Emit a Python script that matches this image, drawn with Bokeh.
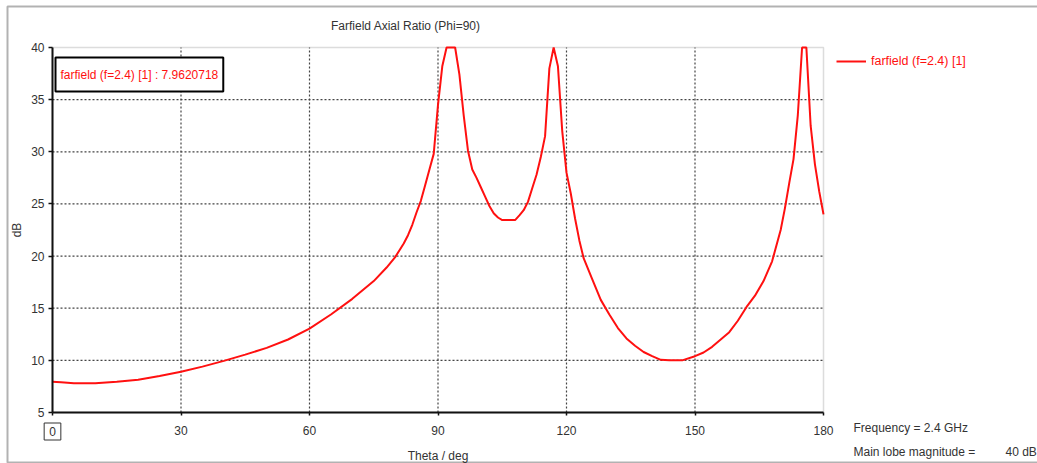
import math
from bokeh.plotting import figure
from bokeh.models import (Label, Legend, LegendItem, FixedTicker, BoxAnnotation, Range1d)
from bokeh.embed import file_html
from bokeh.resources import INLINE

# ---- data ----
theta = [0, 2, 5, 10, 15, 20, 25, 30, 35, 40, 45, 50, 55, 60, 65, 70, 75, 78, 80, 82,
         83, 84, 85, 86, 87, 88, 89, 90, 91, 92, 94, 95, 96, 97, 98, 99, 100, 101, 102,
         103, 104, 105, 108, 109, 110, 111, 112, 113, 114, 115, 116, 117, 118, 119, 120,
         121, 122, 123, 124, 126, 128, 130, 132, 134, 136, 138, 140, 142, 144, 147, 150,
         152, 154, 156, 158, 160, 162, 164, 166, 168, 170, 171, 172, 173, 174, 175, 176,
         177, 178, 179, 180]
axial_ratio = [7.96, 7.9, 7.8, 7.8, 7.95, 8.15, 8.5, 8.9, 9.4, 9.95, 10.55, 11.2, 12.0,
               13.05, 14.4, 15.9, 17.6, 18.9, 19.9, 21.2,
               22.0, 23.0, 24.2, 25.3, 26.8, 28.3, 29.8, 34.5, 38.2, 40.0, 40.0, 37.4, 33.5,
               30.1, 28.3, 27.5, 26.6, 25.7, 24.8,
               24.1, 23.7, 23.45, 23.45, 23.9, 24.4, 25.2, 26.5, 27.8, 29.5, 31.5, 38.0, 40.0,
               38.2, 32.0, 28.0,
               26.0, 23.6, 21.5, 19.8, 17.8, 15.8, 14.4, 13.1, 12.1, 11.4, 10.8, 10.4, 10.05,
               10.0, 10.0, 10.4,
               10.75, 11.3, 12.0, 12.7, 13.8, 15.1, 16.2, 17.6, 19.5, 22.5, 24.6, 27.0, 29.3,
               33.5, 40.0, 40.0,
               32.5, 28.8, 26.2, 24.0]
x_ticks = [0, 30, 60, 90, 120, 150, 180]
y_ticks = [5, 10, 15, 20, 25, 30, 35, 40]
series_name = "farfield (f=2.4) [1]"
marker_text = "farfield (f=2.4) [1] : 7.9620718"
title_text = "Farfield  Axial Ratio (Phi=90)"
x_label = "Theta / deg"
y_label = "dB"
info_lines = ["Frequency = 2.4 GHz", "Main lobe magnitude ="]
info_value = "40 dB"

# ---- layout (pixels) ----
W, H = 1037, 463
BOX_L, BOX_R, BOX_T, BOX_B = 52, 823, 47, 412   # plot box on the canvas
FONT = "Liberation Sans"
RED = "#ff1010"
TXT = "#333333"

x_min, x_max = x_ticks[0], x_ticks[-1]
y_min, y_max = y_ticks[0], y_ticks[-1]
ux = (x_max - x_min) / (BOX_R - BOX_L)
uy = (y_max - y_min) / (BOX_B - BOX_T)
x_range = Range1d(x_min - BOX_L * ux, x_max + (W - BOX_R) * ux)
y_range = Range1d(y_min - (H - BOX_B) * uy, y_max + BOX_T * uy)

p = figure(width=W, height=H, output_backend="svg", toolbar_location=None,
           x_range=x_range, y_range=y_range,
           min_border=0, min_border_left=0, min_border_right=0,
           min_border_top=0, min_border_bottom=0)
p.title.visible = False
p.background_fill_color = "white"
p.border_fill_color = "white"
p.outline_line_color = None
p.xgrid.visible = False
p.ygrid.visible = False

# gray plot-box border (left/bottom get covered by the black axes)
p.add_layout(BoxAnnotation(left=x_min, right=x_max, bottom=y_min, top=y_max,
                           fill_color=None, line_color="#8a8a8a", line_width=1.5,
                           level="underlay"))

# dotted grid at the inner ticks
gx = x_ticks[1:-1]
gy = y_ticks[1:-1]
p.segment(x0=gx, y0=[y_min] * len(gx), x1=gx, y1=[y_max] * len(gx),
          line_color="#444444", line_dash="2 2", line_width=1.2)
p.segment(x0=[x_min] * len(gy), y0=gy, x1=[x_max] * len(gy), y1=gy,
          line_color="#444444", line_dash="2 2", line_width=1.2)

r = p.line(theta, axial_ratio, line_color=RED, line_width=2)

# axes drawn at the plot-box edges
for ax in (p.xaxis[0], p.yaxis[0]):
    ax.axis_line_color = "#111111"
    ax.axis_line_width = 2
    ax.major_tick_line_color = "#111111"
    ax.major_tick_line_width = 1.5
    ax.major_tick_in = 0
    ax.minor_tick_line_color = None
    ax.major_label_text_font = FONT
    ax.major_label_text_font_size = "12px"
    ax.major_label_text_color = TXT
    ax.axis_label_text_font = FONT
    ax.axis_label_text_font_size = "12px"
    ax.axis_label_text_font_style = "normal"
    ax.axis_label_text_color = TXT
p.xaxis.fixed_location = y_min
p.yaxis.fixed_location = x_min
p.xaxis.bounds = (x_min, x_max)
p.yaxis.bounds = (y_min, y_max)
p.xaxis.ticker = FixedTicker(ticks=x_ticks)
p.yaxis.ticker = FixedTicker(ticks=y_ticks)
p.xaxis.major_tick_out = 3
p.yaxis.major_tick_out = 4
p.xaxis.major_label_standoff = 10
p.yaxis.major_label_standoff = 4
p.xaxis.major_label_overrides = {0: ""}
p.xaxis.axis_label = x_label
p.xaxis.axis_label_standoff = 11
p.yaxis.axis_label = y_label
p.yaxis.axis_label_standoff = 4

# outer frame (top, left, bottom; right side runs off the page)
p.add_layout(BoxAnnotation(left=7, right=1200, top=6, bottom=462,
                           left_units="canvas", right_units="canvas",
                           top_units="canvas", bottom_units="canvas",
                           fill_color=None, line_color="black", line_width=2))

def lab(x, y, text, **kw):
    opts = dict(x=x, y=y, text=text, x_units="canvas", y_units="canvas",
                text_font=FONT, text_font_size="12px", text_color=TXT,
                text_baseline="middle", text_align="left")
    opts.update(kw)
    p.add_layout(Label(**opts))

# title
lab(407, 25, title_text, text_align="center")
# info block bottom-right
lab(853, 427, info_lines[0])
lab(853, 451, info_lines[1])
lab(1005, 451, info_value)
# marker readout box
lab(55, 74, marker_text, text_color=RED, border_line_color="black",
    border_line_width=2, background_fill_color="white",
    padding=dict(left=5, right=5, top=10, bottom=10))
# boxed zero tick label
lab(52, 431, "0", text_align="center", border_line_color="#333333",
    border_line_width=1, padding=dict(left=5, right=5, top=4, bottom=4))

# legend (outside the plot box, right)
legend = Legend(items=[LegendItem(label=series_name, renderers=[r])],
                location=(836, H - 53 - 16), padding=0, margin=0, spacing=0,
                glyph_width=30, glyph_height=16, label_height=16,
                label_standoff=5, border_line_color=None,
                background_fill_alpha=0,
                label_text_font=FONT, label_text_font_size="12.5px",
                label_text_color=RED)
p.add_layout(legend, "center")

open("out.html", "w").write(file_html(p, INLINE))
